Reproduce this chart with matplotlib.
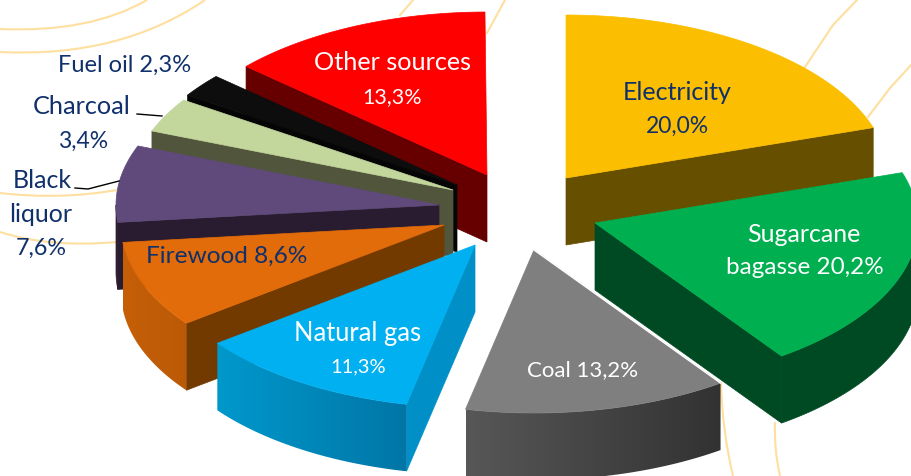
import numpy as np
import matplotlib
matplotlib.use("Agg")
import matplotlib.pyplot as plt
from matplotlib.patches import Polygon, PathPatch
from matplotlib.path import Path

plt.rcParams["font.family"] = ["Lato", "DejaVu Sans"]

# Data
sources = ["Electricity", "Sugarcane bagasse", "Coal", "Natural gas", "Firewood",
           "Black liquor", "Charcoal", "Fuel oil", "Other sources"]
shares = [20.0, 20.2, 13.2, 11.3, 8.6, 7.6, 3.4, 2.3, 13.3]

# Slice colours: top, radial wall, outer wall (left, right)
top_colors = ["#fbbe00", "#00b050", "#7f7f7f", "#00b0f0", "#e26b0a",
              "#604a7b", "#c3d69b", "#0d0d0d", "#ff0000"]
wall_colors = ["#674f00", "#004a23", "#333333", "#008fc6", "#733a00",
               "#291c30", "#50553c", "#050505", "#660000"]
outer_colors = [("#674f00", "#674f00"), ("#004a23", "#004a23"), ("#575757", "#323232"),
                ("#0098cc", "#0076a6"), ("#c55f08", "#bb5a06"), ("#291c30", "#291c30"),
                ("#50553c", "#50553c"), ("#050505", "#050505"), ("#660000", "#660000")]

# Where each exploded slice has its tip, in pixels
tips = [(566, 178), (595, 223), (534, 250), (475, 245), (444, 225),
        (439, 205), (453, 190), (457, 185), (487, 175)]
rx, ry, depth = 323, 163, 67
draw_order = [0, 1, 2, 8, 7, 6, 5, 4, 3]

NAVY = "#10306b"
LINE = "#fedf9f"

fig = plt.figure(figsize=(9.11, 4.76), dpi=100)
ax = fig.add_axes([0, 0, 1, 1])
ax.set_xlim(0, 911)
ax.set_ylim(476, 0)
ax.axis("off")

# Pale background curves
bends = [
    [(0, 29), (90, 33), (147, 0)],
    [(0, 52), (120, 58), (205, 0)],
    [(0, 193), (60, 200), (117, 190)],
    [(0, 232), (50, 248), (117, 242)],
    [(721, 382), (722, 430), (733, 476)],
    [(775, 422), (774, 450), (780, 476)],
]
for pts in bends:
    ax.add_patch(PathPatch(Path(pts, [Path.MOVETO, Path.CURVE3, Path.CURVE3]),
                           facecolor="none", edgecolor=LINE, lw=1.5, zorder=1))
straight = [
    ([400, 413], [15, 0]),
    ([487, 505], [33, 0]),
    ([805, 833, 857], [67, 25, 0]),
    ([868, 890, 911], [117, 88, 65]),
]
for xs, ys in straight:
    ax.plot(xs, ys, color=LINE, lw=1.5, zorder=1)


def rim(tip, a0, a1, n=60):
    t = np.radians(np.linspace(a0, a1, n))
    return np.column_stack([tip[0] + rx * np.sin(t), tip[1] - ry * np.cos(t)])


def add_face(points, color, z):
    ax.add_patch(Polygon(points, closed=True, facecolor=color, edgecolor=color, lw=0.5, zorder=z))


def radial_wall(tip, angle, color, z):
    end = rim(tip, angle, angle, 1)[0]
    add_face([tip, end, (end[0], end[1] + depth), (tip[0], tip[1] + depth)], color, z)


edges = np.cumsum([0] + shares) * 3.6
z = 2
for i in draw_order:
    a0, a1 = edges[i], edges[i + 1]
    tip = tips[i]

    # Walls facing the viewer
    if a1 < 180:
        radial_wall(tip, a1, wall_colors[i], z)
    if a0 > 180:
        radial_wall(tip, a0, wall_colors[i], z)
    z += 1

    lo, hi = max(a0, 90), min(a1, 270)
    if lo < hi:
        arc = rim(tip, lo, hi)
        wall = np.vstack([arc, arc[::-1] + [0, depth]])
        left, right = outer_colors[i]
        if left == right:
            add_face(wall, left, z)
        else:
            # Gradient across the curved wall
            clip = Polygon(wall, closed=True, facecolor="none", edgecolor="none", zorder=z)
            ax.add_patch(clip)
            c0 = np.array(matplotlib.colors.to_rgb(left))
            c1 = np.array(matplotlib.colors.to_rgb(right))
            ramp = np.linspace(0, 1, 128)[None, :, None]
            img = c0 + (c1 - c0) * ramp
            im = ax.imshow(img, extent=(wall[:, 0].min(), wall[:, 0].max(),
                                        wall[:, 1].max(), wall[:, 1].min()),
                           aspect="auto", zorder=z, interpolation="bilinear")
            im.set_clip_path(clip)
    z += 1

    add_face(np.vstack([[tip], rim(tip, a0, a1)]), top_colors[i], z)
    if sources[i] == "Coal":
        # thin light edge where the coal slice sits on the bagasse wall
        corner = rim(tip, a0, a0, 1)[0]
        ax.plot([tip[0], corner[0]], [tip[1], corner[1]], color="white", lw=1, zorder=z)
    z += 1

ax.set_xlim(0, 911)
ax.set_ylim(476, 0)


def pct(v):
    return f"{v:.1f}".replace(".", ",") + "%"


# Labels, one text per line, size set per line since the figures run narrower in the original
labels = [
    ("Other sources", 393, 63, "white", 18.2), (pct(shares[8]), 392, 97, "white", 15.5),
    ("Electricity", 677, 93, NAVY, 18), (pct(shares[0]), 677, 126, NAVY, 16.5),
    ("Sugarcane", 804, 235, "white", 18), ("bagasse " + pct(shares[1]), 805, 267, "white", 17.5),
    ("Coal " + pct(shares[2]), 583, 370, "white", 16),
    ("Natural gas", 358, 333, "white", 18.4), (pct(shares[3]), 358, 367, "white", 14.5),
    ("Firewood " + pct(shares[4]), 227, 256, NAVY, 17.6),
    ("Black", 42, 181, NAVY, 18), ("liquor", 41, 214, NAVY, 18), (pct(shares[5]), 41, 248, NAVY, 16.8),
    ("Charcoal", 82, 106, NAVY, 18.2), (pct(shares[6]), 83, 141, NAVY, 16.5),
    ("Fuel oil " + pct(shares[7]), 125, 65, NAVY, 17),
]
for text, x, y, color, size in labels:
    ax.text(x, y, text, color=color, fontsize=size, ha="center", va="center", zorder=100)

# Leader lines
ax.plot([137, 162], [114, 116], color="black", lw=1, zorder=100)
ax.plot([75, 88, 119], [188, 189, 181], color="black", lw=1, zorder=100)

fig.savefig("out.png", dpi=100)
